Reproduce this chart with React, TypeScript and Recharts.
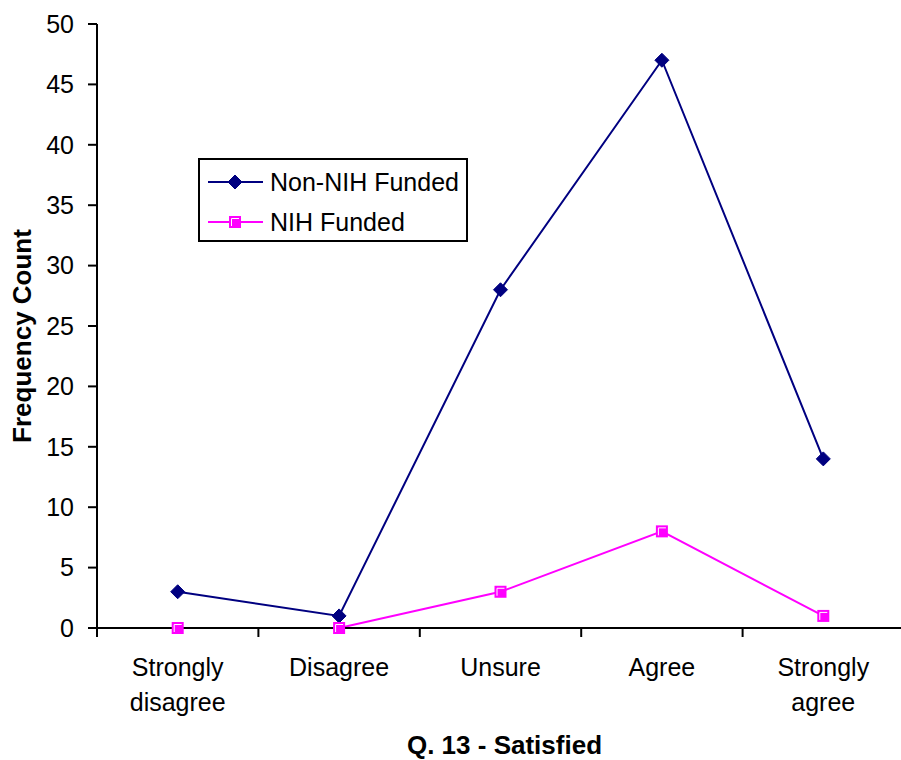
import React from 'react';
import { LineChart, Line, XAxis, YAxis, Legend } from 'recharts';

// Q. 13 answers
const categories = ['Strongly disagree', 'Disagree', 'Unsure', 'Agree', 'Strongly agree'];
const tickLines = [['Strongly', 'disagree'], ['Disagree'], ['Unsure'], ['Agree'], ['Strongly', 'agree']];
const nonNihCounts = [3, 1, 28, 47, 14];
const nihCounts = [0, 0, 3, 8, 1];
const yTicks = [0, 5, 10, 15, 20, 25, 30, 35, 40, 45, 50];
const seriesNames = ['Non-NIH Funded', 'NIH Funded'];

const data = categories.map((c, i) => ({
  name: c,
  nonNih: nonNihCounts[i],
  nih: nihCounts[i],
}));

const FONT = '"Liberation Sans", Arial, sans-serif';
const NAVY = '#000080';
const MAGENTA = '#FF00FF';

const CHART_W = 910;
const CHART_H = 760;
const MARGIN = { top: 24, right: 6, left: 37, bottom: 42 };
const PLOT_W = CHART_W - MARGIN.left - 60 - MARGIN.right;
const HALF_BAND = PLOT_W / categories.length / 2;

const Diamond = ({ cx, cy, color = NAVY }: any) => {
  if (cx == null || cy == null) return null;
  const r = 7;
  return <polygon points={`${cx},${cy - r} ${cx + r},${cy} ${cx},${cy + r} ${cx - r},${cy}`} fill={color} stroke={color} />;
};

const Square = ({ cx, cy, color = MAGENTA }: any) => {
  if (cx == null || cy == null) return null;
  const s = 6;
  return (
    <g>
      <rect x={cx - s} y={cy - s} width={s * 2} height={s * 2} fill={color} />
      <path d={`M${cx - 3.5},${cy + 4} L${cx - 3.5},${cy - 3.5} L${cx + 4},${cy - 3.5}`} stroke="#fff" strokeWidth={1} fill="none" />
    </g>
  );
};

const XTick = ({ x, y, payload, index }: any) => {
  const lines = tickLines[index] || [payload.value];
  return (
    <g>
      <line x1={x - HALF_BAND} y1={y} x2={x - HALF_BAND} y2={y + 9} stroke="#000" strokeWidth={2} />
      {index === categories.length - 1 && (
        <line x1={x + HALF_BAND} y1={y} x2={x + HALF_BAND} y2={y + 9} stroke="#000" strokeWidth={2} />
      )}
      {lines.map((l: string, i: number) => (
        <text key={i} x={x} y={y + 48 + i * 35} textAnchor="middle" fontSize={25} fontFamily={FONT} fill="#000">
          {l}
        </text>
      ))}
    </g>
  );
};

const YLabel = ({ viewBox }: any) => {
  const cx = 31;
  const cy = viewBox.y + viewBox.height / 2 + 10;
  return (
    <text x={cx} y={cy} transform={`rotate(-90, ${cx}, ${cy})`} textAnchor="middle" fontSize={26} fontWeight="bold" fontFamily={FONT} fill="#000">
      Frequency Count
    </text>
  );
};

const XLabel = ({ viewBox }: any) => (
  <text x={viewBox.x + viewBox.width / 2 + 4} y={754} textAnchor="middle" fontSize={26} fontWeight="bold" fontFamily={FONT} fill="#000">
    Q. 13 - Satisfied
  </text>
);

const LegendBox = () => (
  <div
    style={{
      boxSizing: 'border-box',
      width: 270,
      height: 84,
      border: '2px solid #000',
      background: '#fff',
      fontFamily: FONT,
      fontSize: 25,
      paddingTop: 2,
    }}
  >
    {seriesNames.map((n, i) => (
      <div key={n} style={{ display: 'flex', alignItems: 'center', height: 40 }}>
        <svg width={66} height={20} style={{ marginLeft: 8 }}>
          <line x1={0} y1={10} x2={55} y2={10} stroke={i === 0 ? NAVY : MAGENTA} strokeWidth={2} />
          {i === 0 ? <Diamond cx={27} cy={10} /> : <Square cx={27} cy={10} />}
        </svg>
        <span style={{ marginLeft: -4, lineHeight: '40px' }}>{n}</span>
      </div>
    ))}
  </div>
);

export default function App() {
  return (
    <div style={{ position: 'absolute', left: 0, top: 0, width: 901, height: 760, overflow: 'hidden', background: '#fff' }}>
      <LineChart width={CHART_W} height={CHART_H} data={data} margin={MARGIN}>
        <XAxis
          dataKey="name"
          padding={{ left: HALF_BAND, right: HALF_BAND }}
          axisLine={{ stroke: '#000', strokeWidth: 2 }}
          tickLine={false}
          tickSize={0}
          tickMargin={0}
          tick={<XTick />}
          interval={0}
          height={90}
          label={<XLabel />}
        />
        <YAxis
          domain={[0, 50]}
          ticks={yTicks}
          width={60}
          axisLine={{ stroke: '#000', strokeWidth: 2 }}
          tickLine={{ stroke: '#000', strokeWidth: 2 }}
          tickSize={9}
          tickMargin={14}
          tick={{ fill: '#000', fontSize: 25, fontFamily: FONT }}
          interval={0}
          label={<YLabel />}
        />
        <Legend
          layout="vertical"
          align="center"
          verticalAlign="middle"
          content={<LegendBox />}
          wrapperStyle={{ left: 198, top: 158, width: 270, height: 84 }}
        />
        <Line
          name={seriesNames[0]}
          dataKey="nonNih"
          stroke={NAVY}
          strokeWidth={2}
          isAnimationActive={false}
          activeDot={false}
          dot={(p: any) => <Diamond key={`d-${p.index}`} cx={p.cx} cy={p.cy} />}
        />
        <Line
          name={seriesNames[1]}
          dataKey="nih"
          stroke={MAGENTA}
          strokeWidth={2}
          isAnimationActive={false}
          activeDot={false}
          dot={(p: any) => <Square key={`s-${p.index}`} cx={p.cx} cy={p.cy} />}
        />
      </LineChart>
    </div>
  );
}
